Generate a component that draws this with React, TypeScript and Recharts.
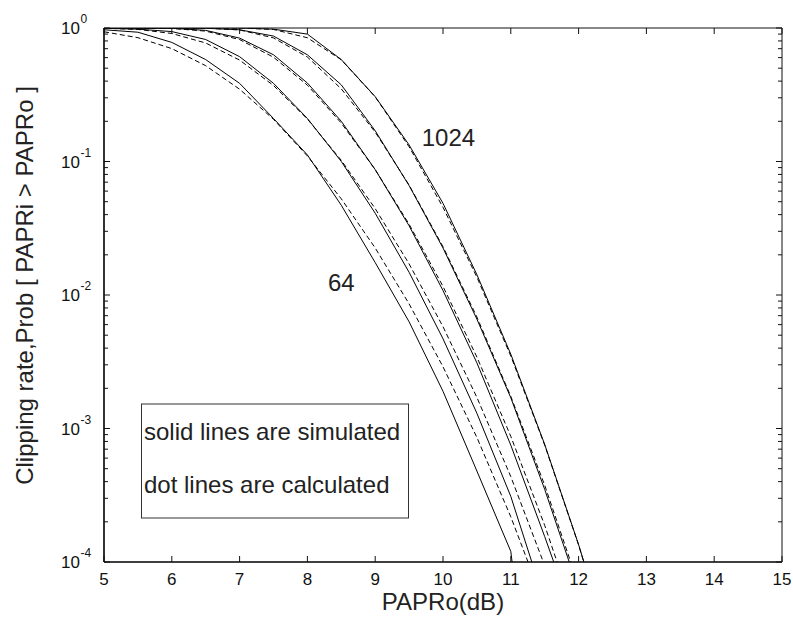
import React from 'react';
import { LineChart, Line, XAxis, YAxis, ReferenceDot } from 'recharts';

const FONT = '"Liberation Sans", Arial, Helvetica, sans-serif';

// PAPRo (dB) sample points
const papr = [5, 5.5, 6, 6.5, 7, 7.5, 8, 8.5, 9, 9.5, 10, 10.5, 11, 11.5, 12, 12.5];

// simulated (solid)
const sim64 = [0.97, 0.93, 0.78, 0.58, 0.385, 0.21, 0.112, 0.047, 0.0175, 0.0063, 0.0019, 0.00048, 0.00012, 0.000001, null, null];
const sim128 = [0.995, 0.98, 0.94, 0.82, 0.61, 0.385, 0.21, 0.1, 0.041, 0.0148, 0.0047, 0.0013, 0.00031, 0.00005, null, null];
const sim256 = [1, 1, 0.995, 0.96, 0.84, 0.63, 0.387, 0.2, 0.087, 0.033, 0.0108, 0.0031, 0.00075, 0.000155, 0.00003, null];
const sim512 = [1, 1, 1, 0.995, 0.97, 0.87, 0.63, 0.375, 0.17, 0.066, 0.0225, 0.0066, 0.0017, 0.00035, 0.000062, null];
const sim1024 = [1, 1, 1, 1, 1, 0.98, 0.9, 0.58, 0.306, 0.133, 0.0486, 0.0142, 0.0036, 0.00076, 0.000135, 0.00002];

// calculated (dashed)
const calc64 = [0.937, 0.846, 0.701, 0.522, 0.348, 0.207, 0.11, 0.0525, 0.0225, 0.00858, 0.0029, 0.000857, 0.000218, 0.000047, null, null];
const calc128 = [0.996, 0.976, 0.91, 0.772, 0.575, 0.371, 0.208, 0.102, 0.0444, 0.0171, 0.00579, 0.00171, 0.000436, 0.0000939, 0.0000167, null];
const calc256 = [1, 0.9994, 0.992, 0.948, 0.819, 0.604, 0.373, 0.194, 0.0869, 0.0339, 0.0116, 0.00343, 0.000873, 0.000188, 0.0000335, null];
const calc512 = [1, 1, 0.9999, 0.997, 0.967, 0.843, 0.606, 0.35, 0.166, 0.0666, 0.023, 0.00684, 0.00174, 0.000376, 0.000067, null];
const calc1024 = [1, 1, 1, 1, 0.999, 0.975, 0.845, 0.578, 0.305, 0.129, 0.0454, 0.0136, 0.00349, 0.000751, 0.000134, 0.0000194];

const xTicks = [5, 6, 7, 8, 9, 10, 11, 12, 13, 14, 15];
const decadeTicks = [0.0001, 0.001, 0.01, 0.1, 1];
const minorSteps = [2, 3, 4, 5, 6, 7, 8, 9];
const yTicks = [
  ...decadeTicks,
  ...decadeTicks.slice(0, 4).flatMap(d => minorSteps.map(m => +(m * d).toPrecision(3))),
].sort((a, b) => a - b);

const curveLabels = [
  { text: '64', x: 8.5, y: 0.0125 },
  { text: '1024', x: 10.08, y: 0.151 },
];
const legendLines = ['solid lines are simulated', 'dot lines are calculated'];

const series = [
  { key: 's64', values: sim64, dashed: false },
  { key: 's128', values: sim128, dashed: false },
  { key: 's256', values: sim256, dashed: false },
  { key: 's512', values: sim512, dashed: false },
  { key: 's1024', values: sim1024, dashed: false },
  { key: 'c64', values: calc64, dashed: true },
  { key: 'c128', values: calc128, dashed: true },
  { key: 'c256', values: calc256, dashed: true },
  { key: 'c512', values: calc512, dashed: true },
  { key: 'c1024', values: calc1024, dashed: true },
];

const data = papr.map((x, i) => {
  const row: Record<string, number | null> = { x };
  series.forEach(s => { row[s.key] = s.values[i]; });
  return row;
});

const isMajor = (v: number) => decadeTicks.includes(v);
const TICK = '#111';

// bottom: inward tick + number
const BottomTick = (props: any) => {
  const { x, y, payload } = props;
  return (
    <g>
      <path d={`M${x},${y}V${y - 6}`} stroke={TICK} strokeWidth={1} fill="none" />
      <text x={x} y={y + 23} textAnchor="middle" fontSize={17} fontFamily={FONT} fill="#111">
        {payload.value}
      </text>
    </g>
  );
};

const TopTick = (props: any) => {
  const { x, y } = props;
  return <path d={`M${x},${y}V${y + 6}`} stroke={TICK} strokeWidth={1} fill="none" />;
};

// left: inward tick, 10^n label on decades
const LeftTick = (props: any) => {
  const { x, y, payload } = props;
  const v = payload.value;
  const major = isMajor(v);
  return (
    <g>
      <path d={`M${x},${y}H${x + (major ? 6 : 4)}`} stroke={TICK} strokeWidth={1} fill="none" />
      {major && (
        <>
          <text x={x - 24} y={y + 6} textAnchor="end" fontSize={17} fontFamily={FONT} fill="#111">10</text>
          <text x={x - 23.5} y={y - 5} fontSize={12} fontFamily={FONT} fill="#111">
            {Math.round(Math.log10(v))}
          </text>
        </>
      )}
    </g>
  );
};

const RightTick = (props: any) => {
  const { x, y, payload } = props;
  const len = isMajor(payload.value) ? 6 : 4;
  return <path d={`M${x},${y}H${x - len}`} stroke={TICK} strokeWidth={1} fill="none" />;
};

const xCommon = {
  dataKey: 'x',
  type: 'number' as const,
  domain: [5, 15],
  ticks: xTicks,
  interval: 0 as const,
  allowDataOverflow: true,
  tickSize: 0,
  tickMargin: 0,
  tickLine: false,
};

const yCommon = {
  type: 'number' as const,
  scale: 'log' as const,
  domain: [0.0001, 1],
  ticks: yTicks,
  interval: 0 as const,
  allowDataOverflow: true,
  tickSize: 0,
  tickMargin: 0,
  tickLine: false,
};

export default function App() {
  return (
    <div style={{ position: 'absolute', left: 0, top: 0, width: 793, height: 621, background: '#fff' }}>
      <LineChart width={793} height={621} data={data} margin={{ top: 28, right: 11, bottom: 0, left: 0 }}>
        <XAxis {...xCommon} height={59} axisLine={{ stroke: '#000', strokeWidth: 1.6 }} tick={<BottomTick />} />
        <XAxis {...xCommon} xAxisId="top" orientation="top" mirror height={10} axisLine={{ stroke: TICK, strokeWidth: 1 }} tick={<TopTick />} />
        <YAxis {...yCommon} width={104} axisLine={{ stroke: '#000', strokeWidth: 1.6 }} tick={<LeftTick />} />
        <YAxis {...yCommon} yAxisId="right" orientation="right" mirror width={10} axisLine={{ stroke: TICK, strokeWidth: 1 }} tick={<RightTick />} />
        {series.map(s => (
          <Line
            key={s.key}
            dataKey={s.key}
            type="linear"
            stroke="#000"
            strokeWidth={1}
            strokeDasharray={s.dashed ? '5 3' : undefined}
            dot={false}
            activeDot={false}
            connectNulls={false}
            isAnimationActive={false}
          />
        ))}
        {curveLabels.map(l => (
          <ReferenceDot
            key={l.text}
            x={l.x}
            y={l.y}
            r={0}
            fill="none"
            stroke="none"
            label={{ value: l.text, position: 'center', fontSize: 24, fontFamily: FONT, fill: '#222' }}
          />
        ))}
      </LineChart>
      <svg width={793} height={621} style={{ position: 'absolute', left: 0, top: 0, pointerEvents: 'none' }}>
        <rect x={141.5} y={404} width={267} height={114} fill="none" stroke="#333" strokeWidth={1} />
        {legendLines.map((t, i) => (
          <text key={t} x={144} y={440 + i * 53} fontSize={24} fontFamily={FONT} fill="#222">{t}</text>
        ))}
        <text x={443} y={610} textAnchor="middle" fontSize={24} fontFamily={FONT} fill="#222">PAPRo(dB)</text>
        <text transform="translate(33,285.5) rotate(-90)" textAnchor="middle" fontSize={24} fontFamily={FONT} fill="#222">
          Clipping rate,Prob [ PAPRi &gt; PAPRo ]
        </text>
      </svg>
    </div>
  );
}
